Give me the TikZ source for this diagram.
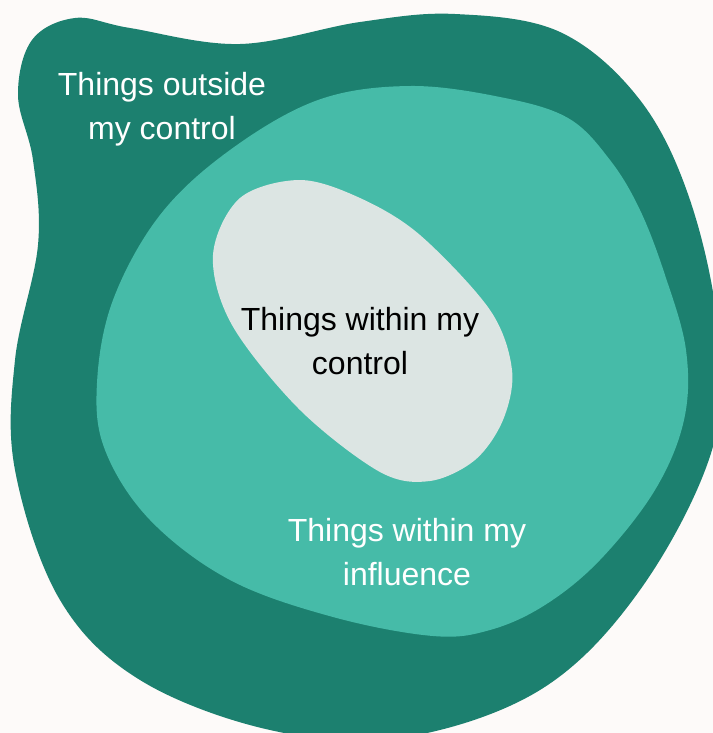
\documentclass[tikz,border=0pt]{standalone}
\usepackage{fontspec}
\setmainfont{Liberation Sans}
\definecolor{hinter}{RGB}{253,250,249}
\definecolor{aussen}{RGB}{28,128,111}
\definecolor{einfluss}{RGB}{70,187,168}
\definecolor{innen}{RGB}{220,229,227}

\begin{document}
\begin{tikzpicture}[x=0.75pt,y=-0.75pt,
	txt/.style={align=center,font=\fontsize{24}{33}\selectfont}]
	\fill[hinter] (0,0) rectangle (713,733);
	\useasboundingbox (0,0) rectangle (713,733);
	\clip (0,0) rectangle (713,733);
	% aussen: outside my control
	\fill[aussen] plot[smooth cycle, tension=0.6] coordinates {
		(18,95) (32,40) (75,18) (130,28) (240,44) (360,22) (455,14) (560,32)
		(640,100) (690,200) (718,330) (712,450) (640,590) (540,690) (400,738)
		(270,730) (140,680) (60,600) (15,470) (15,360) (38,245) (33,160)};
	% einfluss: within my influence
	\fill[einfluss] plot[smooth cycle, tension=0.6] coordinates {
		(409,86) (500,97) (568,118) (610,160) (640,210) (665,275) (686,350)
		(684,420) (655,490) (600,560) (545,605) (490,630) (433,636) (333,617)
		(230,580) (150,520) (105,450) (97,383) (113,300) (160,215) (230,150) (318,100)};
	% innen: within my control
	\fill[innen] plot[smooth cycle, tension=0.55] coordinates {
		(300,180) (240,198) (213,255) (232,325) (300,410) (380,472)
		(430,481) (475,460) (503,420) (512,370) (490,310) (420,235) (360,198)};
	\node[txt,white] (A) at (162,109) {Things outside\\my control};
	\node[txt,black] (K) at (360,341) {Things within my\\control};
	\node[txt,white] (E) at (407,552) {Things within my\\influence};
\end{tikzpicture}
\end{document}
